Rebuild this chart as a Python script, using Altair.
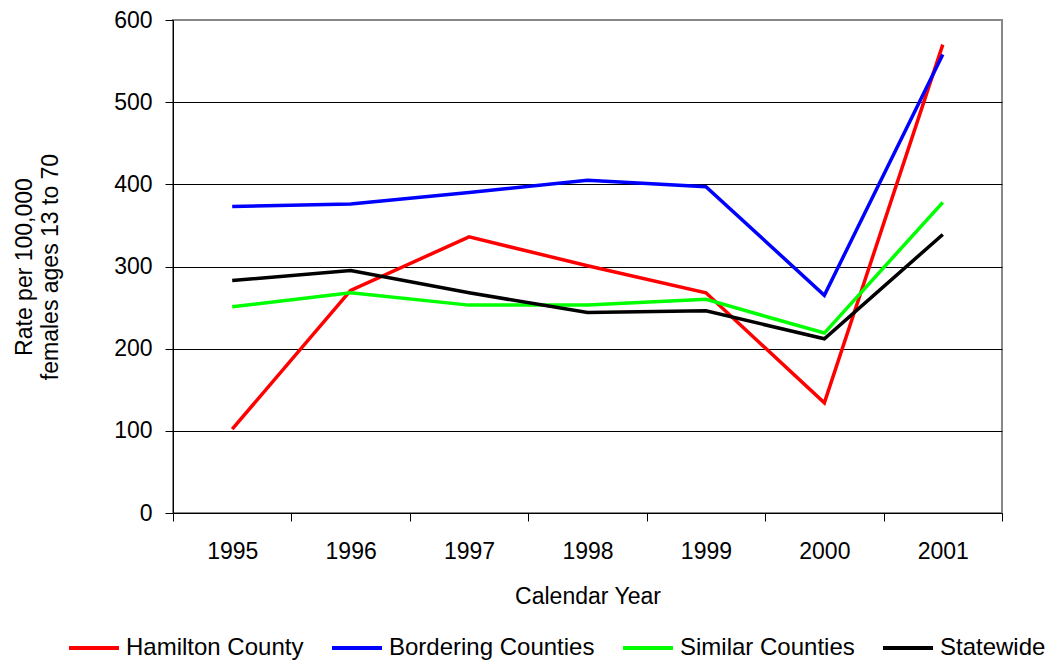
import altair as alt
import pandas as pd

years = ["1995", "1996", "1997", "1998", "1999", "2000", "2001"]
series = ["Hamilton County", "Bordering Counties", "Similar Counties", "Statewide"]
hamilton = [102, 271, 336, 301, 268, 134, 570]
bordering = [373, 376, 390, 405, 397, 265, 558]
similar = [251, 268, 253, 253, 260, 219, 378]
statewide = [283, 295, 268, 244, 246, 212, 339]
colors = ["#FF0000", "#0000FF", "#00FF00", "#000000"]
y_ticks = [0, 100, 200, 300, 400, 500, 600]

rows = []
for i, (name, vals) in enumerate(zip(series, [hamilton, bordering, similar, statewide])):
    for yr, v in zip(years, vals):
        rows.append({"year": yr, "series": name, "rate": v, "order": i})
df = pd.DataFrame(rows)

FONT = "Liberation Sans"

chart = alt.Chart(df).mark_line(strokeWidth=3.5).encode(
    x=alt.X(
        "year:O",
        scale=alt.Scale(type="band", paddingInner=0, paddingOuter=0, domain=years),
        axis=alt.Axis(
            title="Calendar Year",
            labelAngle=0,
            tickBand="extent",
            tickSize=8,
            labelPadding=19,
            labelFontSize=23,
            titleFontSize=23,
            titleX=414.5,
            titleY=90,
            titleBaseline="alphabetic",
            titleAlign="center",
            grid=False,
            domainColor="black",
            tickColor="black",
        ),
    ),
    y=alt.Y(
        "rate:Q",
        scale=alt.Scale(domain=[0, 600], nice=False),
        axis=alt.Axis(
            values=y_ticks,
            title=["Rate per 100,000", "females ages 13 to 70"],
            titleAngle=270,
            titleBaseline="alphabetic",
            titleAlign="center",
            titleX=-142,
            titleY=246.5,
            titleLineHeight=26,
            titleFontSize=23,
            labelFontSize=23,
            tickSize=8,
            labelPadding=13,
            grid=True,
            gridColor=alt.condition(alt.datum.value == 600, alt.value("#888888"), alt.value("#000000")),
            gridWidth=1,
            domainColor="black",
            tickColor="black",
        ),
    ),
    color=alt.Color(
        "series:N",
        scale=alt.Scale(domain=series, range=colors),
        legend=alt.Legend(
            orient="none",
            legendX=-106,
            legendY=601,
            direction="horizontal",
            columns=4,
            title=None,
            symbolType="stroke",
            symbolSize=2500,
            symbolStrokeWidth=4,
            labelFontSize=24,
            labelOffset=5,
            columnPadding=20,
            padding=0,
            labelLimit=400,
        ),
    ),
    order=alt.Order("order:Q"),
).properties(
    width=829,
    height=493,
    autosize=alt.AutoSizeParams(type="none"),
    padding={"left": 165, "top": 12, "right": 44, "bottom": 156},
).configure(
    font=FONT,
).configure_view(
    stroke="#888888",
    strokeWidth=2,
).configure_axis(
    labelColor="black",
    titleColor="black",
    titleFontWeight="normal",
    labelFont=FONT,
    titleFont=FONT,
).configure_legend(
    labelColor="black",
    labelFont=FONT,
)

chart.save("out.html", embed_options={"renderer": "svg", "actions": False})
